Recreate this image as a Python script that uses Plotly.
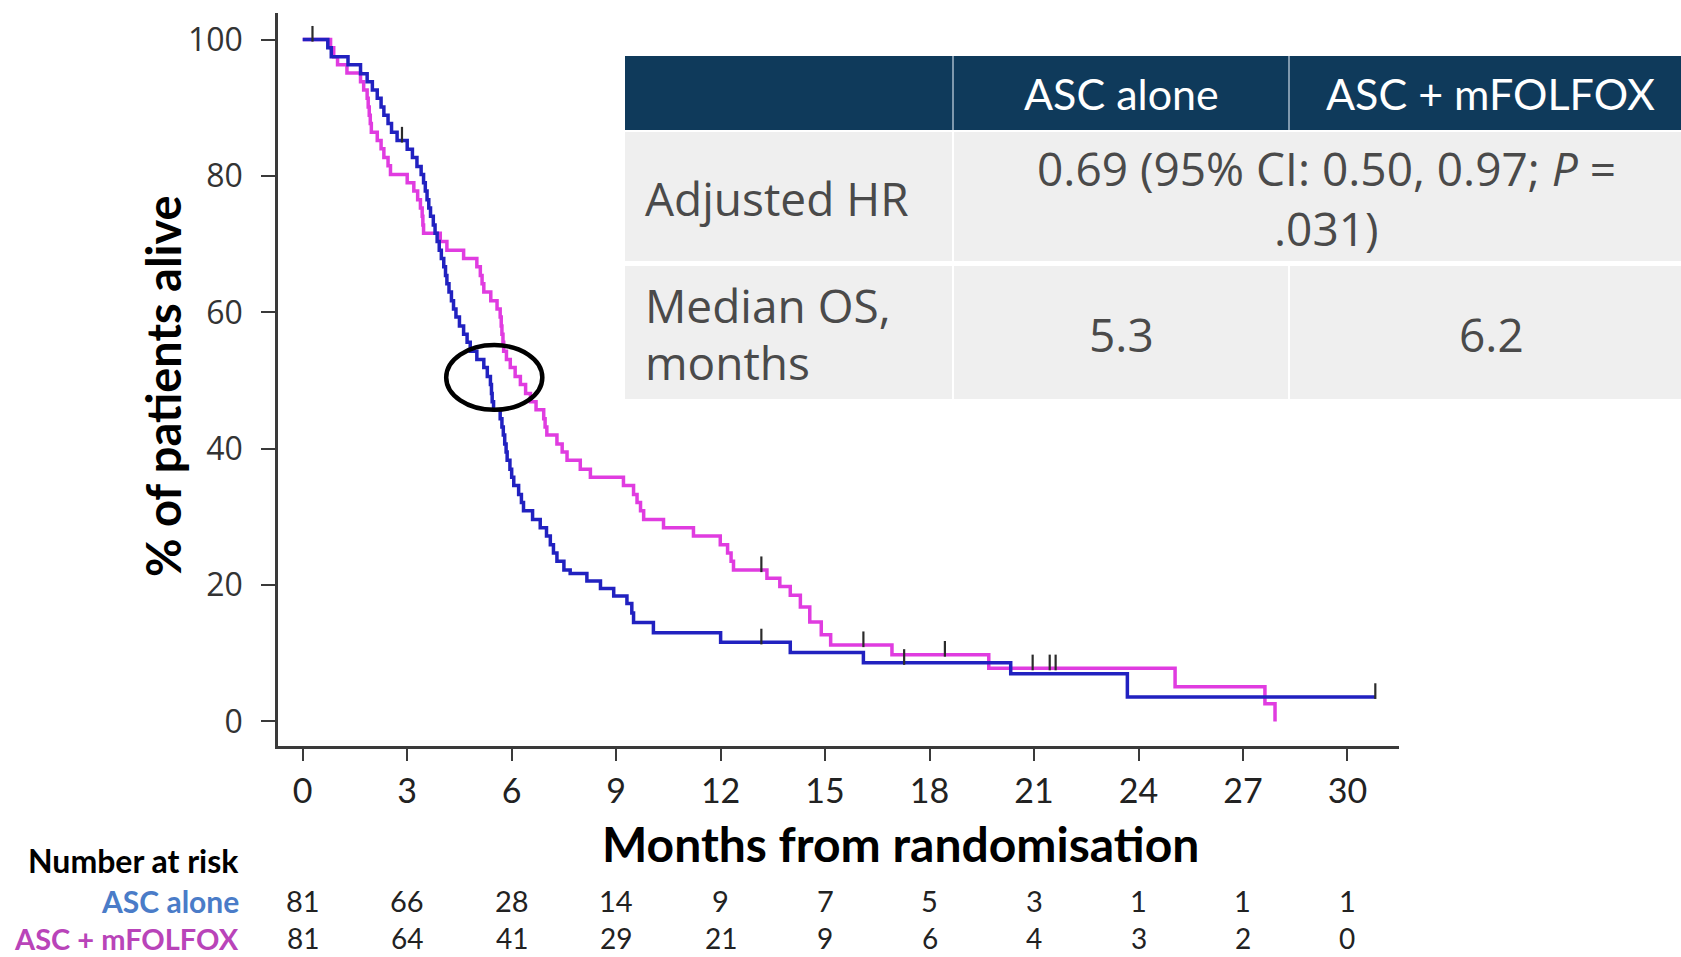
import plotly.graph_objects as go

# ---- Kaplan-Meier step data (months, % alive) ----
asc_t = [0, 0.72, 0.82, 1.30, 1.66, 1.85, 2.00, 2.14, 2.25, 2.33, 2.45, 2.55, 2.71,
         3.00, 3.15, 3.28, 3.40, 3.47, 3.52, 3.57, 3.62, 3.67, 3.75, 3.80, 3.86, 3.92,
         3.98, 4.05, 4.10, 4.14, 4.20, 4.27, 4.33, 4.40, 4.50, 4.62, 4.72, 4.81, 5.00,
         5.20, 5.30, 5.39, 5.42, 5.44, 5.48, 5.67, 5.72, 5.76, 5.80, 5.84, 5.87, 5.95,
         6.00, 6.06, 6.20, 6.28, 6.34, 6.60, 6.82, 7.00, 7.11, 7.20, 7.30, 7.50, 7.68,
         8.16, 8.55, 8.93, 9.31, 9.45, 9.50, 10.07, 12.00, 14.00, 16.10, 20.33, 23.68,
         30.80]
asc_s = [100, 98.8, 97.5, 96.3, 95.0, 93.8, 92.6, 91.4, 90.1, 88.9, 87.7, 86.4, 85.2,
         83.9, 82.7, 81.4, 80.2, 79.0, 77.8, 76.5, 75.3, 74.1, 72.8, 71.6, 70.4, 69.1,
         67.9, 66.7, 65.4, 64.2, 63.0, 61.7, 60.5, 59.3, 58.0, 56.8, 55.6, 54.3, 53.1,
         51.9, 50.6, 49.4, 48.1, 46.9, 45.7, 44.4, 43.2, 42.0, 40.7, 39.5, 38.3, 37.0,
         35.8, 34.6, 33.3, 32.1, 30.9, 29.6, 28.4, 27.2, 25.9, 24.7, 23.5, 22.2, 21.7,
         20.6, 19.5, 18.4, 17.3, 15.9, 14.5, 13.0, 11.6, 10.1, 8.6, 7.0, 3.6,
         3.6]

combo_t = [0, 0.80, 0.89, 1.00, 1.27, 1.66, 1.75, 1.85, 1.88, 1.91, 1.94, 1.97, 2.14,
           2.25, 2.33, 2.45, 2.52, 3.00, 3.19, 3.30, 3.38, 3.43, 3.45, 3.47, 3.95, 4.14,
           4.62, 5.00, 5.10, 5.15, 5.20, 5.40, 5.58, 5.67, 5.70, 5.72, 5.75, 5.77, 5.85,
           5.96, 6.10, 6.25, 6.40, 6.54, 6.70, 6.92, 6.96, 7.01, 7.30, 7.45, 7.59, 7.97,
           8.26, 9.21, 9.50, 9.60, 9.70, 9.79, 10.36, 11.22, 11.99, 12.20, 12.30, 12.37,
           13.33, 13.70, 14.00, 14.29, 14.56, 14.89, 15.16, 16.92, 19.70, 25.05, 27.63,
           27.92]
combo_s = [100, 98.8, 97.5, 96.3, 95.1, 93.8, 92.6, 91.4, 90.1, 88.9, 87.7, 86.4, 85.2,
           84.0, 82.7, 81.5, 80.2, 79.0, 77.8, 76.5, 75.3, 74.1, 72.8, 71.6, 70.4, 69.1,
           67.9, 66.7, 65.4, 64.2, 63.0, 61.7, 60.5, 59.3, 58.0, 56.8, 55.6, 54.3, 53.1,
           51.9, 50.6, 49.4, 48.1, 46.9, 45.7, 44.4, 43.2, 42.0, 40.7, 39.5, 38.3, 37.0,
           35.8, 34.6, 33.3, 32.1, 30.9, 29.6, 28.4, 27.2, 25.9, 24.7, 23.5, 22.2,
           21.0, 19.8, 18.5, 16.8, 14.6, 12.7, 11.2, 9.8, 7.8, 5.1, 2.6,
           0.0]

# censored observations
asc_cens_t = [0.28, 2.85, 13.17, 17.27, 30.80]
asc_cens_s = [100, 85.2, 11.6, 8.6, 3.6]
combo_cens_t = [13.17, 16.10, 18.44, 20.96, 21.45, 21.62]
combo_cens_s = [22.2, 11.2, 9.8, 7.8, 7.8, 7.8]

# number at risk
risk_months = [0, 3, 6, 9, 12, 15, 18, 21, 24, 27, 30]
risk_asc = [81, 66, 28, 14, 9, 7, 5, 3, 1, 1, 1]
risk_combo = [81, 64, 41, 29, 21, 9, 6, 4, 3, 2, 0]

# summary table
arm_names = ["ASC alone", "ASC + mFOLFOX"]
median_os = ["5.3", "6.2"]
hr_text = ["0.69 (95% CI: 0.50, 0.97; <i>P</i> =", ".031)"]

BLUE = "#2121c0"
MAGENTA = "#e03ce0"
NAVY = "#0f3a5b"
CELL = "#efefef"
NARROW = "Lato, sans-serif"
ROUND = "Open Sans, sans-serif"
TXT = "#4a4a4a"

W, H = 1681, 957
L, R, T, B = 278, 282, 13, 211


def px(x):
    return (x - L) / (W - L - R)


def py(y):
    return (H - B - y) / (H - T - B)


fig = go.Figure()

fig.add_trace(go.Scatter(x=combo_t, y=combo_s, mode="lines", line_shape="hv",
                         line=dict(color=MAGENTA, width=3.5), name=arm_names[1],
                         showlegend=False))
fig.add_trace(go.Scatter(x=asc_t, y=asc_s, mode="lines", line_shape="hv",
                         line=dict(color=BLUE, width=3.5), name=arm_names[0],
                         showlegend=False))
# censor marks drawn as short upward strokes
for ct, cs in [(asc_cens_t, asc_cens_s), (combo_cens_t, combo_cens_s)]:
    fig.add_trace(go.Scatter(x=ct, y=cs, mode="markers", showlegend=False,
                             marker=dict(size=1, color="rgba(0,0,0,0)"),
                             error_y=dict(type="constant", value=2.0, valueminus=0.3,
                                          symmetric=False, width=0, thickness=2.2,
                                          color="#2b2b2b")))

# highlight around the medians
fig.add_shape(type="circle", xref="x", yref="y", x0=4.12, x1=6.88, y0=45.7, y1=55.2,
              line=dict(color="black", width=4.5))

# ---- summary table ----
tbl_l, tbl_r = 625, 1681
c1, c2 = 953, 1289
rows = [(56, 130, NAVY), (132, 261, CELL), (266, 399, CELL)]
for y0, y1, col in rows:
    fig.add_shape(type="rect", xref="paper", yref="paper",
                  x0=px(tbl_l), x1=px(tbl_r), y0=py(y1), y1=py(y0),
                  fillcolor=col, line=dict(width=0), layer="above")
# column separators
for xx, y0, y1, col in [(c1, 56, 130, "#7f98ad"), (c2, 56, 130, "#7f98ad"),
                        (c1, 132, 261, "white"), (c1, 266, 399, "white"),
                        (c2, 266, 399, "white")]:
    fig.add_shape(type="line", xref="paper", yref="paper",
                  x0=px(xx), x1=px(xx), y0=py(y1), y1=py(y0),
                  line=dict(color=col, width=2), layer="above")

ann = []
for name, cx in zip(arm_names, [1121, 1490]):
    ann.append(dict(text=name, x=px(cx), y=py(93), font=dict(family=NARROW, size=43, color="white")))
ann.append(dict(text="Adjusted HR", x=px(643), y=py(198), xanchor="left",
                font=dict(family=ROUND, size=46, color=TXT)))
ann.append(dict(text=hr_text[0], x=px(1326), y=py(168),
                font=dict(family=ROUND, size=46, color=TXT)))
ann.append(dict(text=hr_text[1], x=px(1326), y=py(228),
                font=dict(family=ROUND, size=46, color=TXT)))
ann.append(dict(text="Median OS,", x=px(643), y=py(305), xanchor="left",
                font=dict(family=ROUND, size=46, color=TXT)))
ann.append(dict(text="months", x=px(643), y=py(362), xanchor="left",
                font=dict(family=ROUND, size=46, color=TXT)))
for m, cx in zip(median_os, [1121, 1491]):
    ann.append(dict(text=m, x=px(cx), y=py(334), font=dict(family=ROUND, size=46, color=TXT)))

# ---- axis titles ----
ann.append(dict(text="<b>Months from randomisation</b>", x=px(900), y=py(843),
                font=dict(family=NARROW, size=48, color="black")))
ann.append(dict(text="<b>% of patients alive</b>", x=px(163), y=py(386), textangle=-90,
                font=dict(family=NARROW, size=47, color="black")))

# ---- number at risk ----
ann.append(dict(text="<b>Number at risk</b>", x=px(241), y=py(860), xanchor="right",
                font=dict(family=NARROW, size=32, color="black")))
ann.append(dict(text="<b>ASC alone</b>", x=px(241), y=py(901), xanchor="right",
                font=dict(family=NARROW, size=30, color="#4a7cc8")))
ann.append(dict(text="<b>ASC + mFOLFOX</b>", x=px(241), y=py(938), xanchor="right",
                font=dict(family=NARROW, size=29, color="#b944b9")))
for m, a, c in zip(risk_months, risk_asc, risk_combo):
    ann.append(dict(text=str(a), x=m, xref="x", y=py(901), font=dict(family=NARROW, size=29, color="#222")))
    ann.append(dict(text=str(c), x=m, xref="x", y=py(938), font=dict(family=NARROW, size=28, color="#222")))

for a in ann:
    a.setdefault("xref", "paper")
    a.setdefault("yref", "paper")
    a.setdefault("xanchor", "center")
    a["yanchor"] = "middle"
    a["showarrow"] = False

fig.update_layout(
    width=W, height=H,
    margin=dict(l=L, r=R, t=T, b=B, pad=0),
    paper_bgcolor="white", plot_bgcolor="white",
    annotations=ann,
    xaxis=dict(range=[-0.71, 31.48], tickvals=risk_months, showgrid=False, zeroline=False,
               showline=True, linecolor="#3a3a3a", linewidth=2.5,
               ticks="outside", ticklen=12, tickwidth=2, tickcolor="#3a3a3a",
               ticklabelstandoff=1,
               tickfont=dict(family=NARROW, size=34, color="#222")),
    yaxis=dict(range=[-3.6, 103.9], tickvals=[0, 20, 40, 60, 80, 100], showgrid=False,
               zeroline=False, showline=True, linecolor="#3a3a3a", linewidth=2.5,
               ticks="outside", ticklen=14, tickwidth=2, tickcolor="#3a3a3a",
               ticklabelstandoff=12,
               tickfont=dict(family=ROUND, size=32, color="#333")),
)

fig.write_html("out.html")
